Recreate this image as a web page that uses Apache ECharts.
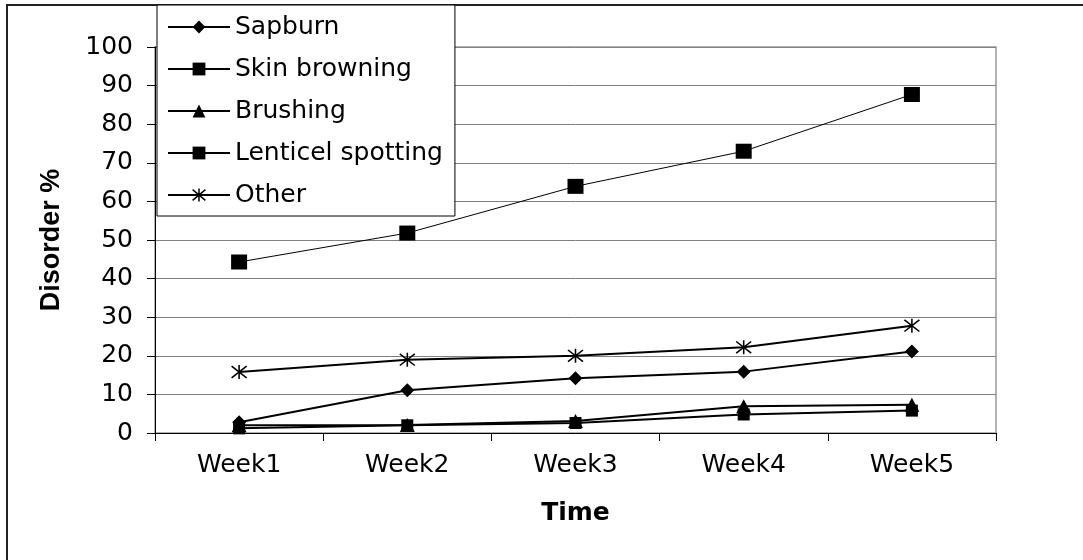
<!DOCTYPE html>
<html>
<head>
<meta charset="utf-8">
<script src="https://cdn.jsdelivr.net/npm/echarts@6/dist/echarts.min.js"></script>
<style>
html,body{margin:0;padding:0;background:#fff;}
#chart{width:1083px;height:560px;}
</style>
</head>
<body>
<div id="chart"></div>
<script>
var categories = ['Week1', 'Week2', 'Week3', 'Week4', 'Week5'];
var seriesNames = ['Sapburn', 'Skin browning', 'Brushing', 'Lenticel spotting', 'Other'];
var sapburn = [2.8, 11.1, 14.2, 15.9, 21.1];
var skinBrowning = [1.2, 2.0, 2.6, 4.8, 5.8];
var brushing = [2.0, 2.1, 3.1, 6.9, 7.3];
var lenticelSpotting = [44.3, 51.8, 63.9, 73.0, 87.7];
var other = [15.8, 19.0, 20.0, 22.2, 27.8];
var yMin = 0, yMax = 100, yInterval = 10;
var xTitle = 'Time';
var yTitle = 'Disorder %';

var FONT = 'DejaVu Sans';
var asterisk = 'path://M0,0L10,10M10,0L0,10M5,-1L5,11';

var chart = echarts.init(document.getElementById('chart'), null, {renderer: 'canvas'});
var option = {
  animation: false,
  backgroundColor: '#fff',
  graphic: [{
    type: 'rect', z: -10, silent: true,
    shape: {x: 7, y: 5, width: 1300, height: 800},
    style: {fill: 'none', stroke: '#222', lineWidth: 2}
  }],
  grid: {
    left: 155, right: 87, top: 47, bottom: 127,
    show: true, borderColor: '#999', borderWidth: 1.5, backgroundColor: 'transparent'
  },
  legend: {
    orient: 'vertical', left: 157, top: 5,
    padding: [7, 12, 6, 10],
    itemWidth: 62, itemHeight: 16, itemGap: 12,
    backgroundColor: '#fff', borderColor: '#000', borderWidth: 1,
    textStyle: {fontFamily: FONT, fontSize: 25, color: '#000', lineHeight: 30},
    data: [
      {name: seriesNames[0]},
      {name: seriesNames[1]},
      {name: seriesNames[2]},
      {name: seriesNames[3]},
      {name: seriesNames[4], itemStyle: {borderColor: '#000', borderWidth: 1.5}}
    ]
  },
  xAxis: {
    type: 'category', data: categories, boundaryGap: true,
    name: xTitle, nameLocation: 'middle', nameGap: 68,
    nameTextStyle: {fontFamily: FONT, fontSize: 25, fontWeight: 'bold', color: '#000'},
    axisLine: {lineStyle: {color: '#000', width: 1}},
    axisTick: {show: true, length: 8, lineStyle: {color: '#000'}},
    axisLabel: {fontFamily: FONT, fontSize: 25, color: '#000', margin: 20},
    splitLine: {show: false}
  },
  yAxis: {
    type: 'value', min: yMin, max: yMax, interval: yInterval,
    name: yTitle, nameLocation: 'middle', nameGap: 90, nameRotate: 90,
    nameTextStyle: {fontFamily: 'Liberation Sans', fontSize: 27, fontWeight: 'bold', color: '#000'},
    axisLine: {show: true, lineStyle: {color: '#000', width: 1}},
    axisTick: {show: true, length: 8, lineStyle: {color: '#000'}},
    axisLabel: {fontFamily: FONT, fontSize: 25, color: '#000', margin: 22},
    splitLine: {show: true, lineStyle: {color: '#808080', width: 1}}
  },
  series: [
    {name: seriesNames[0], type: 'line', data: sapburn, symbol: 'diamond', symbolSize: [14, 14],
     lineStyle: {color: '#000', width: 2}, itemStyle: {color: '#000'}},
    {name: seriesNames[1], type: 'line', data: skinBrowning, symbol: 'rect', symbolSize: 12,
     lineStyle: {color: '#000', width: 2}, itemStyle: {color: '#000'}},
    {name: seriesNames[2], type: 'line', data: brushing, symbol: 'triangle', symbolSize: [15, 14],
     lineStyle: {color: '#000', width: 2}, itemStyle: {color: '#000'}},
    {name: seriesNames[3], type: 'line', data: lenticelSpotting, symbol: 'rect', symbolSize: [16, 15],
     lineStyle: {color: '#000', width: 1}, itemStyle: {color: '#000'}},
    {name: seriesNames[4], type: 'line', data: other, symbol: asterisk, symbolSize: [15, 14],
     lineStyle: {color: '#000', width: 2}, itemStyle: {color: '#000', borderColor: '#000', borderWidth: 1.5}}
  ]
};
chart.setOption(option);
</script>
</body>
</html>
